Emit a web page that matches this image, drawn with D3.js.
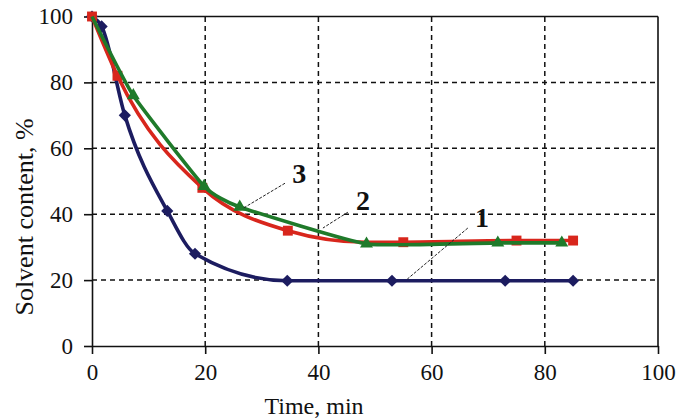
<!DOCTYPE html>
<html>
<head>
<meta charset="utf-8">
<script src="https://cdn.jsdelivr.net/npm/d3@7"></script>
<style>
  html, body { margin: 0; padding: 0; background: #fff; }
  svg { display: block; }
  text { font-family: "Liberation Serif", "DejaVu Serif", serif; fill: #111; }
</style>
</head>
<body>
<script>
// ---- data ----
const xTicks = [0, 20, 40, 60, 80, 100];
const yTicks = [0, 20, 40, 60, 80, 100];
const xTitle = "Time, min";
const yTitle = "Solvent content, %";

const series1Time  = [0, 1.7, 5.8, 13.3, 18.2, 34.5, 53, 73, 85];
const series1Value = [100, 97, 70, 41, 28, 19.8, 19.8, 19.8, 19.8];

const series2Time  = [0, 4.5, 19.5, 34.6, 48.5, 55, 75, 85];
const series2Value = [100, 82, 48, 35, 31.5, 31.5, 32, 32];

const series3Time  = [0, 7.3, 19.8, 26.1, 48.5, 71.7, 83];
const series3Value = [100, 76, 48.5, 42.2, 31, 31.3, 31.3];

const labelNames = ["1", "2", "3"];
const labelPos   = [[68.9, 36], [47.9, 41.2], [36.6, 49.4]];
const leaderFrom = [[66.4, 35.8], [45.2, 40.6], [34.1, 49.4]];
const leaderTo   = [[55.7, 20.3], [40.8, 35.8], [26.7, 41.8]];

// ---- layout ----
const W = 692, H = 419;
const x = d3.scaleLinear().domain([0, 100]).range([92, 658]);
const y = d3.scaleLinear().domain([0, 100]).range([346, 16.5]);

const svg = d3.select("body").append("svg").attr("width", W).attr("height", H);

// grid
const grid = svg.append("g");
grid.selectAll(".gx").data(xTicks.filter(d => d > 0 && d < 100)).join("line")
  .attr("x1", d => x(d)).attr("x2", d => x(d)).attr("y1", y(0)).attr("y2", y(100))
  .attr("stroke", "#111").attr("stroke-width", 1.5).attr("stroke-dasharray", "5,4");
grid.selectAll(".gy").data(yTicks.filter(d => d > 0 && d < 100)).join("line")
  .attr("x1", x(0)).attr("x2", x(100)).attr("y1", d => y(d)).attr("y2", d => y(d))
  .attr("stroke", "#111").attr("stroke-width", 1.5).attr("stroke-dasharray", "5,4");

// frame top/right
svg.append("line").attr("x1", x(0)).attr("x2", x(100)).attr("y1", y(100)).attr("y2", y(100))
  .attr("stroke", "#111").attr("stroke-width", 1.6);
svg.append("line").attr("x1", x(100)).attr("x2", x(100)).attr("y1", y(100)).attr("y2", y(0))
  .attr("stroke", "#111").attr("stroke-width", 1.6);

// axes
const xAxis = d3.axisBottom(x).tickValues(xTicks).tickSize(8).tickPadding(9).tickSizeOuter(0);
const yAxis = d3.axisLeft(y).tickValues(yTicks).tickSize(8).tickPadding(11).tickSizeOuter(0);
const gx = svg.append("g").attr("transform", `translate(0,${y(0)})`).call(xAxis);
const gy = svg.append("g").attr("transform", `translate(${x(0)},0)`).call(yAxis);
[gx, gy].forEach(g => {
  g.select(".domain").attr("stroke", "#111").attr("stroke-width", 1.6);
  g.selectAll(".tick line").attr("stroke", "#111").attr("stroke-width", 1.6);
  g.selectAll(".tick text").attr("font-family", "Liberation Serif").attr("font-size", 23).attr("fill", "#111");
});
gx.selectAll(".tick text").attr("dy", "0.75em");

// titles
svg.append("text").attr("x", 314).attr("y", 414).attr("text-anchor", "middle")
  .attr("font-size", 24).text(xTitle);
svg.append("text").attr("transform", `translate(33,${217}) rotate(-90)`).attr("text-anchor", "middle")
  .attr("font-size", 26).text(yTitle);

// series
const mk = (t, v) => t.map((d, i) => [d, v[i]]);
const s1 = mk(series1Time, series1Value);
const s2 = mk(series2Time, series2Value);
const s3 = mk(series3Time, series3Value);

const blue = "#1c1c60", red = "#d8261c", green = "#1f7a2a";

function drawSeries(data, color, shape, size, markersIdx, curve) {
  const line = d3.line().x(d => x(d[0])).y(d => y(d[1])).curve(curve);
  svg.append("path").datum(data).attr("d", line).attr("fill", "none")
    .attr("stroke", color).attr("stroke-width", 3.6).attr("stroke-linejoin", "round");
  const sym = d3.symbol().type(shape).size(size);
  svg.append("g").selectAll("path").data(data.filter((d, i) => markersIdx(i))).join("path")
    .attr("transform", d => `translate(${x(d[0])},${y(d[1])})`)
    .attr("d", sym).attr("fill", color);
}
drawSeries(s1, blue, d3.symbolDiamond2, 95, i => true, d3.curveMonotoneX);
drawSeries(s2, red, d3.symbolSquare2, 125, i => i !== 4, d3.curveMonotoneX);
drawSeries(s3, green, d3.symbolTriangle2, 120, i => i > 0, d3.curveCardinal.tension(0.55));

// annotations
const ann = svg.append("g");
ann.selectAll("line").data(leaderFrom).join("line")
  .attr("x1", d => x(d[0])).attr("y1", d => y(d[1]))
  .attr("x2", (d, i) => x(leaderTo[i][0])).attr("y2", (d, i) => y(leaderTo[i][1]))
  .attr("stroke", "#222").attr("stroke-width", 1).attr("stroke-dasharray", "3,1.5");
ann.selectAll("text").data(labelNames).join("text")
  .attr("x", (d, i) => x(labelPos[i][0])).attr("y", (d, i) => y(labelPos[i][1]))
  .attr("text-anchor", "middle").attr("font-size", 28).attr("font-weight", "bold")
  .text(d => d);
</script>
</body>
</html>
